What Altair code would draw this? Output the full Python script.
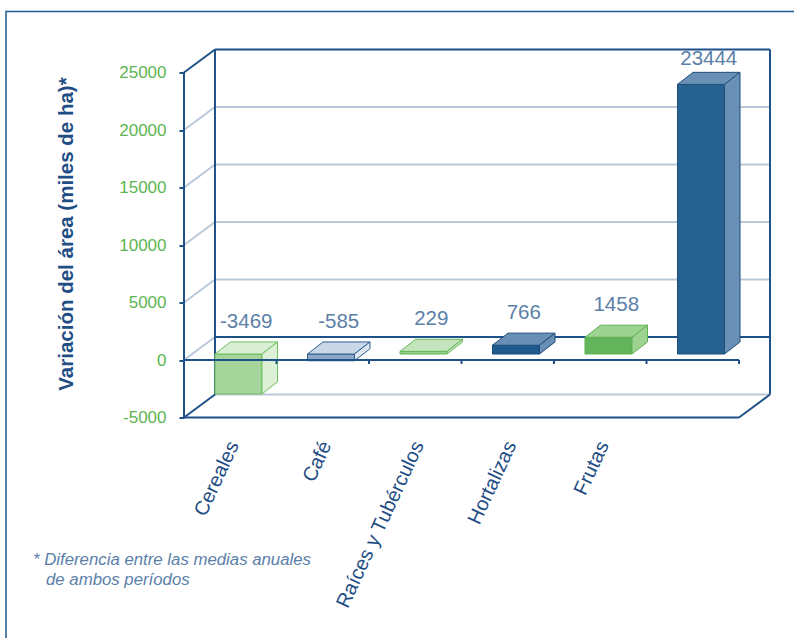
import altair as alt
import pandas as pd

# ---- data ----
categories = ["Cereales", "Café", "Raíces y Tubérculos", "Hortalizas", "Frutas", ""]
values = [-3469, -585, 229, 766, 1458, 23444]
y_ticks = [-5000, 0, 5000, 10000, 15000, 20000, 25000]
footnote = ["* Diferencia entre las medias anuales", "de ambos períodos"]

# ---- styles ----
front_colors = ["#a6d59c", "#8aa7c6", "#92cf89", "#1f5a8e", "#63b55b", "#27618f"]
top_colors = ["#d9eed4", "#c9d7e6", "#c3e4bc", "#6a8fb4", "#9dd390", "#6a90b5"]
side_colors = ["#dcefd7", "#dfe7f0", "#c3e4bc", "#6a8fb4", "#9dd390", "#6a90b5"]
edge_colors = ["#6cbf5e", "#2f5f8f", "#62b655", "#1a4b7a", "#5fb052", "#1e4f7e"]
DARK = "#1f5189"
LIGHT = "#b9c9da"
FONT = "Liberation Sans"

# 3D geometry (in scale units)
N = len(categories)
DEPTH_X, DEPTH_Y = 0.335, 2000
BAR_OFF, BAR_W, BAR_DX, BAR_DY, BASE = 0.335, 0.508, 0.168, 1050, 520
YMIN, YTOP = y_ticks[0], y_ticks[-1]
XMAX = N + DEPTH_X
YMAX = YTOP + DEPTH_Y

xs = alt.Scale(domain=[0, XMAX], nice=False, zero=False)
ys = alt.Scale(domain=[YMIN, YMAX], nice=False, zero=False)

yaxis = alt.Axis(values=y_ticks, grid=False, domain=False,
                 labelExpr="datum.value + ''",
                 tickColor=DARK, tickSize=5, tickWidth=2,
                 labelColor="#5db550", labelFontSize=17, labelFont=FONT,
                 labelPadding=13,
                 title="Variación del área (miles de ha)*", titleFont=FONT,
                 titleFontSize=20.5, titleFontWeight="bold", titleColor="#1f4e85",
                 titlePadding=42)

def X(field):
    return alt.X(field, scale=xs, axis=None)

def Y(field):
    return alt.Y(field, scale=ys, axis=yaxis)

# ---- frame / grid segments ----
segs = []
def seg(name, p, q, col, w=2):
    segs.append(dict(seg=name, k=0, x=p[0], y=p[1], col=col, w=w))
    segs.append(dict(seg=name, k=1, x=q[0], y=q[1], col=col, w=w))

for v in y_ticks[1:-1]:
    seg(f"d{v}", (0, v), (DEPTH_X, v + DEPTH_Y), LIGHT)
    if v != 0:
        seg(f"b{v}", (DEPTH_X, v + DEPTH_Y), (XMAX, v + DEPTH_Y), LIGHT)
seg("backbottom", (DEPTH_X, YMIN + DEPTH_Y), (XMAX, YMIN + DEPTH_Y), LIGHT)
seg("backzero", (DEPTH_X, DEPTH_Y), (XMAX, DEPTH_Y), DARK)
seg("axis", (0, YMIN), (0, YTOP), DARK)
seg("topdiag", (0, YTOP), (DEPTH_X, YMAX), DARK)
seg("top", (DEPTH_X, YMAX), (XMAX, YMAX), DARK)
seg("rightv", (XMAX, YMAX), (XMAX, YMIN + DEPTH_Y), DARK)
seg("leftv", (DEPTH_X, YMAX), (DEPTH_X, YMIN + DEPTH_Y), DARK)
seg("botdiag", (0, YMIN), (DEPTH_X, YMIN + DEPTH_Y), DARK)
seg("floor", (0, YMIN), (N, YMIN), DARK)
seg("floordiag", (N, YMIN), (XMAX, YMIN + DEPTH_Y), DARK)
frame_df = pd.DataFrame(segs)

zsegs = []
zsegs.append(dict(seg="zero", k=0, x=0, y=0))
zsegs.append(dict(seg="zero", k=1, x=N, y=0))
for i in range(1, N + 1):
    zsegs.append(dict(seg=f"t{i}", k=0, x=i, y=0))
    zsegs.append(dict(seg=f"t{i}", k=1, x=i, y=-350))
zero_df = pd.DataFrame(zsegs)

# ---- bars ----
fronts, faces, labels, cats = [], [], [], []
for i, (c, v) in enumerate(zip(categories, values)):
    a = i + BAR_OFF
    top = BASE + max(v, 0)
    bot = BASE + min(v, 0)
    fronts.append(dict(x0=a, x1=a + BAR_W, y0=bot, y1=top,
                       fill=front_colors[i], edge=edge_colors[i]))
    # top face (parallelogram)
    for x, y0, y1 in [(a, top, top), (a + BAR_DX, top, top + BAR_DY),
                      (a + BAR_W, top, top + BAR_DY),
                      (a + BAR_W + BAR_DX, top + BAR_DY, top + BAR_DY)]:
        faces.append(dict(fid=f"top{i}", x=x, y=y0, y2=y1,
                          fill=top_colors[i], edge=edge_colors[i]))
    # side face
    for x, y0, y1 in [(a + BAR_W, bot, top),
                      (a + BAR_W + BAR_DX, bot + BAR_DY, top + BAR_DY)]:
        faces.append(dict(fid=f"side{i}", x=x, y=y0, y2=y1,
                          fill=side_colors[i], edge=edge_colors[i]))
    labels.append(dict(x=a + BAR_W / 2 + BAR_DX / 2,
                       y=min(top + BAR_DY, YTOP - 600), text=str(v)))
    cats.append(dict(x=a + BAR_W / 2 - 0.05, text=c))
front_df = pd.DataFrame(fronts)
face_df = pd.DataFrame(faces)
label_df = pd.DataFrame(labels)
cat_df = pd.DataFrame(cats)

frame = alt.Chart(frame_df).mark_line().encode(
    x=X("x:Q"), y=Y("y:Q"),
    detail="seg:N",
    order="k:Q",
    color=alt.Color("col:N", scale=None),
    strokeWidth=alt.StrokeWidth("w:Q", scale=None),
)

front = alt.Chart(front_df).mark_rect(strokeWidth=1).encode(
    x=X("x0:Q"), x2="x1:Q",
    y=Y("y0:Q"), y2="y1:Q",
    fill=alt.Fill("fill:N", scale=None),
    stroke=alt.Stroke("edge:N", scale=None),
)

sides = alt.Chart(face_df).mark_area(strokeWidth=1, interpolate="linear").encode(
    x=X("x:Q"), y=Y("y:Q"), y2="y2:Q",
    detail="fid:N",
    fill=alt.Fill("fill:N", scale=None),
    stroke=alt.Stroke("edge:N", scale=None),
)

zero = alt.Chart(zero_df).mark_line(color=DARK, strokeWidth=2).encode(
    x=X("x:Q"), y=Y("y:Q"),
    detail="seg:N", order="k:Q",
)

vlabels = alt.Chart(label_df).mark_text(
    fontSize=20.5, font=FONT, color="#5b7fa8", baseline="middle", dy=-20
).encode(
    x=X("x:Q"), y=Y("y:Q"),
    text="text:N",
)

clabels = alt.Chart(cat_df).mark_text(
    fontSize=20, font=FONT, color="#1f4e85", angle=295, align="right",
    baseline="middle"
).encode(
    x=X("x:Q"),
    y=alt.value(393),
    text="text:N",
)

notes = alt.Chart(pd.DataFrame({"t": [footnote[0]]})).mark_text(
    fontSize=16.8, font=FONT, fontStyle="italic", color="#5a80aa",
    align="left", baseline="middle"
).encode(x=alt.value(-151), y=alt.value(510), text="t:N")
notes2 = alt.Chart(pd.DataFrame({"t": [footnote[1]]})).mark_text(
    fontSize=16.8, font=FONT, fontStyle="italic", color="#5a80aa",
    align="left", baseline="middle"
).encode(x=alt.value(-138), y=alt.value(530), text="t:N")

border = alt.Chart(pd.DataFrame({"a": [0]})).mark_rect(
    fill="transparent", stroke="#1f5a8e", strokeWidth=1.5
).encode(x=alt.value(-178), x2=alt.value(700), y=alt.value(-38), y2=alt.value(700))

chart = alt.layer(frame, border, front, sides, zero, vlabels, clabels, notes, notes2).properties(
    width=586, height=368,
    padding={"left": 184, "top": 49.5, "right": 24, "bottom": 220.5},
    autosize=alt.AutoSizeParams(type="none"),
    background="white",
).configure_view(stroke=None)

chart.save("out.html", embed_options={"renderer": "svg", "actions": False})
